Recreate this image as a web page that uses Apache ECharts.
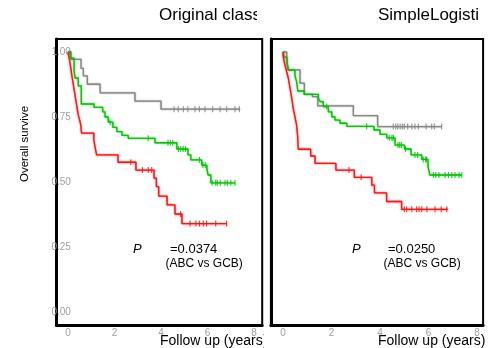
<!DOCTYPE html>
<html>
<head>
<meta charset="utf-8">
<script src="https://cdn.jsdelivr.net/npm/echarts@6/dist/echarts.min.js"></script>
<style>html,body{margin:0;padding:0;background:#fff}#c{width:493px;height:348px}</style>
</head>
<body>
<div id="c"></div>
<script>
// ---- data (time in years, survival fraction) ----
const xTicks = [0, 2, 4, 6, 8];
const yTicks = [0, 0.25, 0.5, 0.75, 1];
const panelTitles = ['Original class', 'SimpleLogisti'];
const pValues = ['=0.0374', '=0.0250'];

// Left panel (Original classification)
const leftGrayT = [0, 0.13, 0.56, 0.66, 0.83, 1.38, 2.88, 4.0, 7.4];
const leftGrayS = [1, 0.972, 0.937, 0.908, 0.876, 0.843, 0.811, 0.78, 0.78];
const leftGrayCensor = [4.56, 4.74, 4.96, 5.15, 5.46, 5.65, 5.89, 6.22, 6.54, 6.82, 7.18, 7.37];

const leftGreenT = [0, 0.1, 0.26, 0.3, 0.44, 0.57, 1.12, 1.49, 1.59, 1.73, 1.93, 2.1, 2.32, 2.59, 3.74, 4.68, 5.16, 5.28, 5.75, 5.97, 6.02, 6.14, 7.18];
const leftGreenS = [1, 0.976, 0.93, 0.9, 0.87, 0.8, 0.787, 0.77, 0.75, 0.73, 0.71, 0.694, 0.679, 0.668, 0.651, 0.627, 0.604, 0.585, 0.565, 0.553, 0.527, 0.497, 0.497];
const leftGreenCensor = [1.81, 3.45, 4.3, 4.4, 4.5, 4.75, 4.85, 4.95, 5.05, 5.65, 5.8, 5.9, 6.2, 6.35, 6.42, 6.55, 6.75, 6.85, 7.0, 7.18];

const leftRedT = [0, 0.05, 0.09, 0.16, 0.23, 0.3, 0.37, 0.44, 0.5, 0.55, 0.58, 1.11, 1.16, 1.23, 2.15, 2.92, 3.7, 3.8, 3.9, 4.26, 4.6, 4.9, 6.82];
const leftRedS = [1, 0.975, 0.956, 0.912, 0.873, 0.835, 0.796, 0.758, 0.738, 0.719, 0.688, 0.662, 0.635, 0.604, 0.576, 0.546, 0.515, 0.482, 0.446, 0.412, 0.377, 0.34, 0.34];
const leftRedCensor = [2.7, 3.2, 3.45, 3.6, 4.84, 5.25, 5.5, 5.65, 5.82, 5.96, 6.35, 6.82];

// Right panel (SimpleLogistic)
const rightGrayT = [0, 0.15, 0.2, 0.7, 0.88, 1.21, 1.43, 2.9, 3.9, 6.54];
const rightGrayS = [1, 0.976, 0.931, 0.88, 0.837, 0.828, 0.793, 0.755, 0.713, 0.713];
const rightGrayCensor = [4.55, 4.65, 4.73, 4.83, 4.92, 5.0, 5.14, 5.31, 5.44, 5.58, 5.9, 6.13, 6.24, 6.54];

const rightGreenT = [0, 0.05, 0.16, 0.23, 0.49, 0.56, 0.61, 0.88, 1.46, 1.53, 1.66, 1.87, 2.01, 2.14, 2.35, 2.63, 3.75, 4.0, 4.28, 4.62, 5.01, 5.28, 5.72, 5.98, 6.06, 7.37];
const rightGreenS = [1, 0.98, 0.96, 0.93, 0.91, 0.886, 0.85, 0.837, 0.822, 0.809, 0.79, 0.77, 0.751, 0.738, 0.726, 0.714, 0.7, 0.683, 0.67, 0.642, 0.627, 0.604, 0.587, 0.558, 0.527, 0.527];
const rightGreenCensor = [1.8, 3.45, 4.38, 4.49, 4.55, 4.74, 4.81, 4.88, 5.05, 5.44, 5.55, 5.78, 5.88, 5.92, 6.2, 6.3, 6.43, 6.68, 6.82, 6.96, 7.09, 7.26, 7.37];

const rightRedT = [0, 0.02, 0.08, 0.15, 0.22, 0.29, 0.36, 0.42, 0.49, 0.56, 0.6, 0.63, 1.14, 1.32, 2.18, 2.94, 3.66, 3.77, 4.27, 4.89, 6.8];
const rightRedS = [1, 0.976, 0.95, 0.924, 0.899, 0.86, 0.822, 0.783, 0.751, 0.719, 0.68, 0.626, 0.6, 0.572, 0.546, 0.518, 0.488, 0.458, 0.425, 0.395, 0.395];
const rightRedCensor = [2.72, 3.22, 5.0, 5.1, 5.31, 5.51, 5.61, 5.72, 5.93, 6.27, 6.52, 6.75];

// ---- build ----
const FONT = "'Liberation Sans', Arial, Helvetica, sans-serif";
const COLORS = { gray: '#858585', green: '#00c400', red: '#ff1010' };

function pairs(T, S) { return T.map((t, i) => [t, S[i]]); }
function survAt(T, S, t) {
  let s = S[0];
  for (let i = 0; i < T.length; i++) { if (T[i] <= t) s = S[i]; }
  return s;
}
function curve(idx, T, S, C, color) {
  return [
    { type: 'line', xAxisIndex: idx, yAxisIndex: idx, step: 'end', data: pairs(T, S),
      showSymbol: false, silent: true, animation: false,
      lineStyle: { color: color, width: 1.3, shadowColor: color, shadowBlur: 1.5, opacity: 0.95 } },
    { type: 'scatter', xAxisIndex: idx, yAxisIndex: idx, data: C.map(t => [t, survAt(T, S, t)]),
      symbol: 'rect', symbolSize: [1.2, 6], silent: true, animation: false,
      itemStyle: { color: color } }
  ];
}
const isTick = (arr, v) => arr.some(t => Math.abs(t - v) < 1e-6);

const grids = [
  { left: 56.4, top: 39, width: 205.8, height: 286 },
  { left: 270.9, top: 39, width: 212.2, height: 286 }
];
const xMax = [8.35, 8.25];

const option = {
  animation: false,
  backgroundColor: '#fff',
  grid: grids.map(g => Object.assign({ show: true, borderColor: '#000', borderWidth: 2, backgroundColor: 'transparent' }, g)),
  xAxis: [0, 1].map(i => ({
    type: 'value', gridIndex: i, min: -0.5, max: xMax[i], interval: 0.5,
    axisLine: { show: true, onZero: false, lineStyle: { color: '#000', width: 3 } },
    axisTick: { show: false }, splitLine: { show: false },
    axisLabel: { interval: 0, margin: 3, color: '#a0a0a0', fontSize: 10, fontFamily: FONT,
      formatter: v => isTick(xTicks, v) ? String(Math.round(v)) : '' }
  })),
  yAxis: [0, 1].map(i => ({
    type: 'value', gridIndex: i, min: -0.05, max: 1.05, interval: 0.05,
    axisLine: { show: true, onZero: false, lineStyle: { color: '#000', width: 3 } },
    axisTick: { show: false }, splitLine: { show: false },
    axisLabel: { show: i === 0, inside: true, margin: -5, interval: 0, color: '#a0a0a0', fontSize: 10, fontFamily: FONT,
      formatter: v => isTick(yTicks, v) ? v.toFixed(2) : '' }
  })),
  series: [].concat(
    curve(0, leftGrayT, leftGrayS, leftGrayCensor, COLORS.gray),
    curve(0, leftGreenT, leftGreenS, leftGreenCensor, COLORS.green),
    curve(0, leftRedT, leftRedS, leftRedCensor, COLORS.red),
    curve(1, rightGrayT, rightGrayS, rightGrayCensor, COLORS.gray),
    curve(1, rightGreenT, rightGreenS, rightGreenCensor, COLORS.green),
    curve(1, rightRedT, rightRedS, rightRedCensor, COLORS.red)
  ),
  graphic: [
    { type: 'text', left: 159, top: 7, z: 10, style: { text: panelTitles[0], font: '17px ' + FONT, fill: '#000' } },
    { type: 'rect', shape: { x: 257, y: 0, width: 14, height: 34 }, z: 11, style: { fill: '#fff' } },
    { type: 'text', left: 378, top: 7, z: 10, style: { text: panelTitles[1], font: '17px ' + FONT, fill: '#000' } },
    { type: 'text', x: 25, y: 144, rotation: Math.PI / 2, z: 10,
      style: { text: 'Overall survive', font: '11.5px ' + FONT, fill: '#000', align: 'center', verticalAlign: 'middle' } },
    { type: 'text', x: 160, y: 341, z: 10, style: { text: 'Follow up (years)', font: '14px ' + FONT, fill: '#000', verticalAlign: 'middle' } },
    { type: 'rect', shape: { x: 263.5, y: 332, width: 7, height: 16 }, z: 11, style: { fill: '#fff' } },
    { type: 'text', x: 378, y: 341, z: 10, style: { text: 'Follow up (years)', font: '14px ' + FONT, fill: '#000', verticalAlign: 'middle' } },
    { type: 'text', x: 133, y: 249, z: 10, style: { text: 'P', font: 'italic 13px ' + FONT, fill: '#000', verticalAlign: 'middle' } },
    { type: 'text', x: 170, y: 249, z: 10, style: { text: pValues[0], font: '13px ' + FONT, fill: '#000', verticalAlign: 'middle' } },
    { type: 'text', x: 165.5, y: 264, z: 10, style: { text: '(ABC vs GCB)', font: '12px ' + FONT, fill: '#000', verticalAlign: 'middle' } },
    { type: 'text', x: 352, y: 249, z: 10, style: { text: 'P', font: 'italic 13px ' + FONT, fill: '#000', verticalAlign: 'middle' } },
    { type: 'text', x: 388, y: 249, z: 10, style: { text: pValues[1], font: '13px ' + FONT, fill: '#000', verticalAlign: 'middle' } },
    { type: 'text', x: 383.5, y: 264, z: 10, style: { text: '(ABC vs GCB)', font: '12px ' + FONT, fill: '#000', verticalAlign: 'middle' } }
  ]
};
const chart = echarts.init(document.getElementById('c'), null, { renderer: 'canvas' });
chart.setOption(option);
</script>
</body>
</html>
